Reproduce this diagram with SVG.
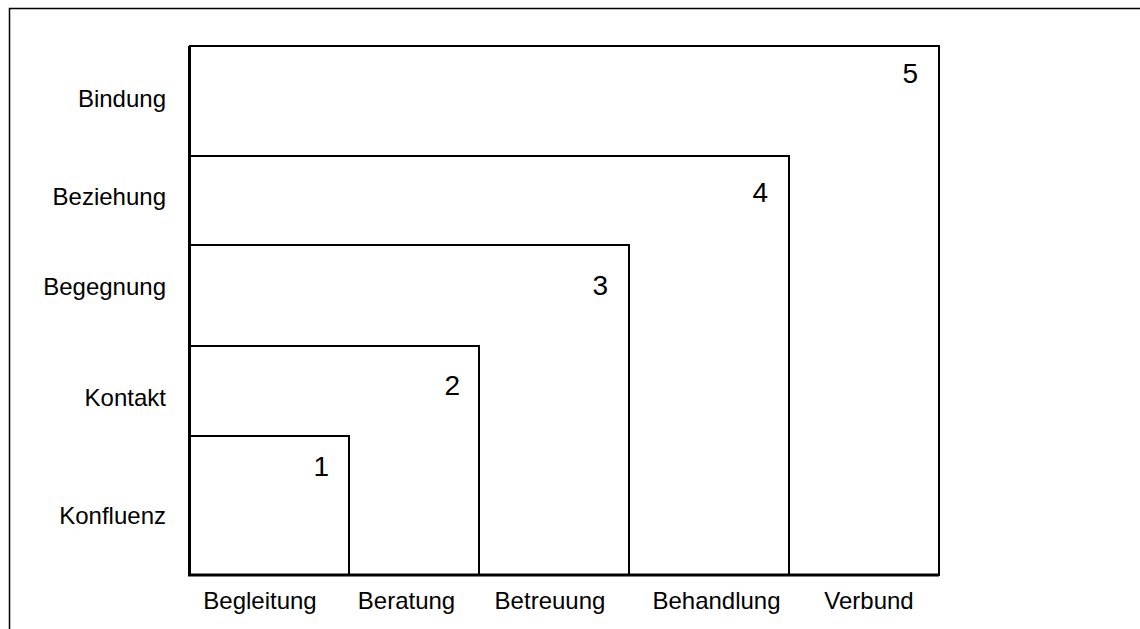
<svg xmlns="http://www.w3.org/2000/svg" width="1140" height="629" viewBox="0 0 1140 629">
<style>
.box{fill:none;stroke:#000;stroke-width:2}
.axis{fill:none;stroke:#000;stroke-width:3}
.frame{fill:none;stroke:#000;stroke-width:1.5}
.lbl{font-family:"Liberation Sans",Arial,sans-serif;font-size:24px;fill:#000}
.yl{text-anchor:end}
.xl{text-anchor:middle}
.num{font-family:"Liberation Sans",Arial,sans-serif;font-size:28px;fill:#000;text-anchor:end}
</style>
<rect width="1140" height="629" fill="#fff"/>
<path class="frame" d="M9.5,629 V8.5 H1140"/>
<g id="box5"><rect class="box" x="190" y="46" width="749" height="529"/><text class="num" x="918" y="83">5</text></g>
<g id="box4"><rect class="box" x="190" y="156" width="599" height="419"/><text class="num" x="768" y="202">4</text></g>
<g id="box3"><rect class="box" x="190" y="245" width="439" height="330"/><text class="num" x="608" y="295">3</text></g>
<g id="box2"><rect class="box" x="190" y="346" width="289" height="229"/><text class="num" x="460" y="395">2</text></g>
<g id="box1"><rect class="box" x="190" y="436" width="159" height="139"/><text class="num" x="329" y="476">1</text></g>
<g id="axes"><path class="axis" d="M189.5,46 V575 H939"/></g>
<g id="ylabels">
<text class="lbl yl" x="166" y="107">Bindung</text>
<text class="lbl yl" x="166" y="205">Beziehung</text>
<text class="lbl yl" x="166" y="295">Begegnung</text>
<text class="lbl yl" x="166" y="406">Kontakt</text>
<text class="lbl yl" x="166" y="524">Konfluenz</text>
</g>
<g id="xlabels">
<text class="lbl xl" x="260" y="609">Begleitung</text>
<text class="lbl xl" x="406.5" y="609">Beratung</text>
<text class="lbl xl" x="550" y="609">Betreuung</text>
<text class="lbl xl" x="716.5" y="609">Behandlung</text>
<text class="lbl xl" x="869" y="609">Verbund</text>
</g>
</svg>
